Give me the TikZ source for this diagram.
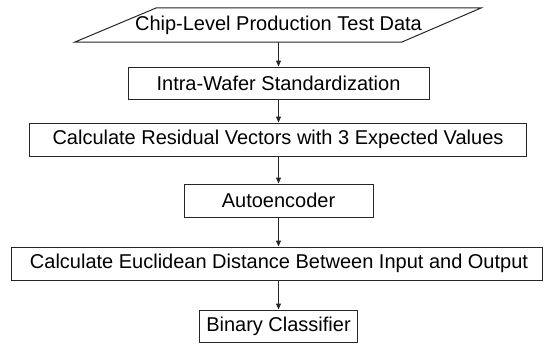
\documentclass[tikz,border=0pt]{standalone}
\usepackage{fontspec}
\setmainfont{Liberation Sans}
\usetikzlibrary{arrows.meta}
\begin{document}
\begin{tikzpicture}[x=1pt,y=-1pt,
  every node/.style={font=\fontsize{20}{24}\selectfont, inner sep=0pt},
  procbox/.style={draw=black!85, line width=1pt},
  flow/.style={draw=black!85, line width=1pt, -{Triangle[length=6pt,width=5pt]}}]
\useasboundingbox (0,0) rectangle (551,343);
% input (parallelogram)
\node[minimum height=34pt, minimum width=200pt] (data) at (278.5,25) {Chip-Level Production Test Data};
\draw[draw=black!85, line width=1pt]
  ([xshift=-122pt]data.north) -- ([xshift=203pt]data.north)
  -- ([xshift=123pt]data.south) -- ([xshift=-204pt]data.south) -- cycle;
% process boxes
\node[procbox, minimum width=301pt, minimum height=32pt] (std) at (278.5,83) {Intra-Wafer Standardization};
\node[procbox, minimum width=497pt, minimum height=33pt] (res) at (278,139.5) {Calculate Residual Vectors with 3 Expected Values};
\node[procbox, minimum width=189pt, minimum height=33pt] (ae) at (278.5,200.5) {Autoencoder};
\node[procbox, minimum width=531pt, minimum height=33pt] (dist) at (276.5,263.5) {\hspace{5pt}Calculate Euclidean Distance Between Input and Output};
\node[procbox, minimum width=158pt, minimum height=32pt] (cls) at (278.5,326) {Binary Classifier};
% connectors
\draw[flow] (data.south) -- (std.north);
\draw[flow] (std.south) -- (res.north -| std.south);
\draw[flow] (res.south -| ae.north) -- (ae.north);
\draw[flow] (ae.south) -- (ae.south |- dist.north);
\draw[flow] (dist.south -| cls.north) -- (cls.north);
\end{tikzpicture}
\end{document}
